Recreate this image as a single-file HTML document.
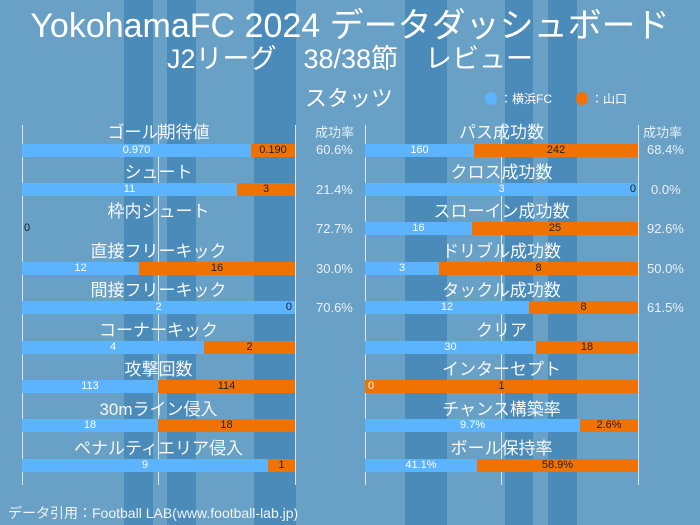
<!DOCTYPE html>
<html><head><meta charset="utf-8"><style>
*{margin:0;padding:0;box-sizing:border-box}
body{width:700px;height:525px;overflow:hidden;background:#69a0c6;font-family:"Liberation Sans","Noto Sans CJK JP",sans-serif;position:relative;color:#fff}
.s{position:absolute;top:0;height:525px;background:#4b8bb9}
.t{position:absolute;left:0;width:700px;text-align:center;white-space:nowrap}
.ax{position:absolute;top:125px;height:360px;width:1px;background:#d8e6f0}
.lb{position:absolute;width:273px;text-align:center;font-size:17px;line-height:20px;color:#f4f8fb}
.bar{position:absolute;width:273px;height:13px;display:flex;font-size:11px;line-height:13px}
.b{background:#5cb3fe;color:#fff;text-align:center;overflow:visible;white-space:nowrap}
.o{background:#f07202;color:#222;text-align:center;flex:1;white-space:nowrap}
.p{position:absolute;font-size:13px;color:#e8f0f6;line-height:14px}
</style></head><body>
<div class="s" style="left:124px;width:29px"></div>
<div class="s" style="left:167px;width:29px"></div>
<div class="s" style="left:254px;width:42px"></div>
<div class="s" style="left:405px;width:42px"></div>
<div class="s" style="left:505px;width:28px"></div>
<div class="s" style="left:548px;width:29px"></div>

<div class="t" style="top:7px;font-size:34px;line-height:38px">YokohamaFC 2024 データダッシュボード</div>
<div class="t" style="top:44px;font-size:27px;line-height:30px">J2リーグ　38/38節　レビュー</div>
<div class="t" style="top:86px;left:-1px;font-size:22px;line-height:26px">スタッツ</div>
<div style="position:absolute;left:485px;top:92px;width:12px;height:13px;border-radius:50%;background:#5cb3fe"></div>
<div style="position:absolute;left:500px;top:90px;font-size:12px">：横浜FC</div>
<div style="position:absolute;left:576px;top:92px;width:12px;height:13px;border-radius:50%;background:#f07202"></div>
<div style="position:absolute;left:591px;top:90px;font-size:12px">：山口</div>

<div class="ax" style="left:22px"></div><div class="ax" style="left:158px"></div><div class="ax" style="left:295px"></div>
<div class="ax" style="left:365px"></div><div class="ax" style="left:501px"></div><div class="ax" style="left:638px"></div>

<div class="p" style="left:315px;top:126px">成功率</div>
<div class="p" style="left:643px;top:126px">成功率</div>

<!-- left -->
<div class="lb" style="left:22px;top:123px">ゴール期待値</div>
<div class="bar" style="left:22px;top:144px"><div class="b" style="width:229px">0.970</div><div class="o">0.190</div></div>
<div class="p" style="left:316px;top:143px">60.6%</div>

<div class="lb" style="left:22px;top:163px">シュート</div>
<div class="bar" style="left:22px;top:183px"><div class="b" style="width:215px">11</div><div class="o">3</div></div>
<div class="p" style="left:316px;top:183px">21.4%</div>

<div class="lb" style="left:22px;top:202px">枠内シュート</div>
<div style="position:absolute;left:24px;top:222px;font-size:11px;color:#222">0</div>
<div class="p" style="left:316px;top:222px">72.7%</div>

<div class="lb" style="left:22px;top:242px">直接フリーキック</div>
<div class="bar" style="left:22px;top:262px"><div class="b" style="width:117px">12</div><div class="o">16</div></div>
<div class="p" style="left:316px;top:262px">30.0%</div>

<div class="lb" style="left:22px;top:281px">間接フリーキック</div>
<div class="bar" style="left:22px;top:301px"><div class="b" style="width:273px;position:relative">2<span style="position:absolute;right:3px;color:#222">0</span></div></div>
<div class="p" style="left:316px;top:301px">70.6%</div>

<div class="lb" style="left:22px;top:321px">コーナーキック</div>
<div class="bar" style="left:22px;top:341px"><div class="b" style="width:182px">4</div><div class="o">2</div></div>

<div class="lb" style="left:22px;top:360px">攻撃回数</div>
<div class="bar" style="left:22px;top:380px"><div class="b" style="width:136px">113</div><div class="o">114</div></div>

<div class="lb" style="left:22px;top:400px">30mライン侵入</div>
<div class="bar" style="left:22px;top:419px"><div class="b" style="width:136px">18</div><div class="o">18</div></div>

<div class="lb" style="left:22px;top:439px">ペナルティエリア侵入</div>
<div class="bar" style="left:22px;top:459px"><div class="b" style="width:246px">9</div><div class="o">1</div></div>

<!-- right -->
<div class="lb" style="left:365px;top:123px">パス成功数</div>
<div class="bar" style="left:365px;top:144px"><div class="b" style="width:109px">160</div><div class="o">242</div></div>
<div class="p" style="left:647px;top:143px">68.4%</div>

<div class="lb" style="left:365px;top:163px">クロス成功数</div>
<div class="bar" style="left:365px;top:183px"><div class="b" style="width:273px;position:relative">3<span style="position:absolute;right:2px;color:#222">0</span></div></div>
<div class="p" style="left:651px;top:183px">0.0%</div>

<div class="lb" style="left:365px;top:202px">スローイン成功数</div>
<div class="bar" style="left:365px;top:222px"><div class="b" style="width:107px">16</div><div class="o">25</div></div>
<div class="p" style="left:647px;top:222px">92.6%</div>

<div class="lb" style="left:365px;top:242px">ドリブル成功数</div>
<div class="bar" style="left:365px;top:262px"><div class="b" style="width:74px">3</div><div class="o">8</div></div>
<div class="p" style="left:647px;top:262px">50.0%</div>

<div class="lb" style="left:365px;top:281px">タックル成功数</div>
<div class="bar" style="left:365px;top:301px"><div class="b" style="width:164px">12</div><div class="o">8</div></div>
<div class="p" style="left:647px;top:301px">61.5%</div>

<div class="lb" style="left:365px;top:321px">クリア</div>
<div class="bar" style="left:365px;top:341px"><div class="b" style="width:171px">30</div><div class="o">18</div></div>

<div class="lb" style="left:365px;top:360px">インターセプト</div>
<div class="bar" style="left:365px;top:380px"><div class="o" style="position:relative">1<span style="position:absolute;left:3px;color:#fff">0</span></div></div>

<div class="lb" style="left:365px;top:400px">チャンス構築率</div>
<div class="bar" style="left:365px;top:419px"><div class="b" style="width:215px">9.7%</div><div class="o">2.6%</div></div>

<div class="lb" style="left:365px;top:439px">ボール保持率</div>
<div class="bar" style="left:365px;top:459px"><div class="b" style="width:112px">41.1%</div><div class="o">58.9%</div></div>

<div style="position:absolute;left:8px;top:503px;font-size:14px;color:#eef4f8;white-space:nowrap">データ引用：Football LAB(www.football-lab.jp)</div>
</body></html>
